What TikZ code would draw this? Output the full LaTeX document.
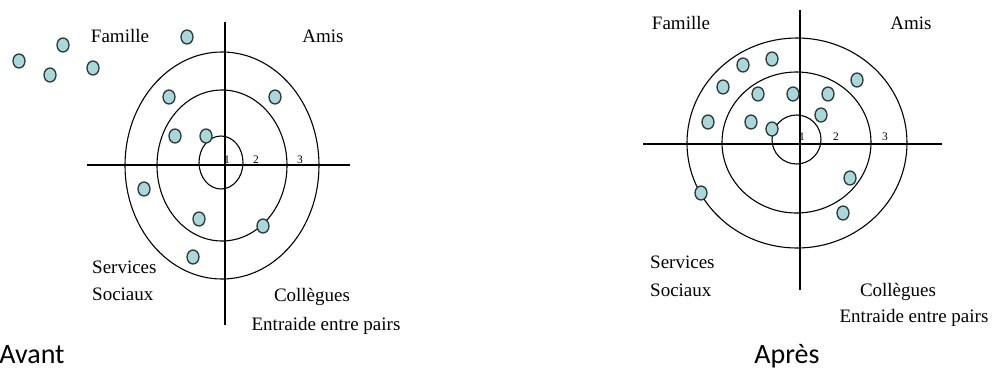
\documentclass[tikz,border=0pt]{standalone}
\usepackage{fontspec}
\setmainfont{Liberation Serif}
\newfontfamily\captionfont{Carlito}
\usetikzlibrary{shapes.geometric,positioning}
\definecolor{dotfill}{RGB}{168,216,216}
\definecolor{dotline}{RGB}{45,55,55}

\begin{document}
\begin{tikzpicture}[x=1pt,y=-1pt,
    contact/.style={ellipse,draw=dotline,fill=dotfill,line width=1.3pt,minimum width=12pt,minimum height=14pt,inner sep=0pt},
    sector/.style={font=\fontsize{19}{22}\selectfont,inner sep=0pt,anchor=base},
    ringlabel/.style={font=\fontsize{11.5}{12}\selectfont,inner sep=0pt,anchor=base},
    caption/.style={font=\captionfont\fontsize{28}{32}\selectfont,inner sep=0pt,anchor=base}]
        \useasboundingbox (0,0) rectangle (1002,370);

        % Avant
        \draw[line width=1.1pt] (87,165) -- (350,165);
        \draw[line width=1.1pt] (225,22) -- (225,325);
        \draw[line width=1.1pt] (221,162.5) ellipse (22 and 26.5);
        \draw[line width=1.1pt] (222,165.5) ellipse (65 and 75.5);
        \draw[line width=1.1pt] (222,165.5) ellipse (97 and 113.5);
        \node[ringlabel] (a1) at (227,163) {1};
        \node[ringlabel] (a2) at (256,163) {2};
        \node[ringlabel] (a3) at (300,163) {3};
        \node[sector] (afam) at (120,42) {Famille};
        \node[sector] (aamis) at (323,42) {Amis};
        \node[sector,anchor=base west] (aserv) at (92,273) {Services};
        \node[sector,anchor=base west] (asoc) at (92,300) {Sociaux};
        \node[sector] (acoll) at (312,301) {Collègues};
        \node[sector] (aentr) at (326,330) {Entraide entre pairs};
        \foreach \p/\x/\y in {1/19/61, 2/63/45, 3/50/75, 4/93/68, 5/187/37, 6/169/97, 7/275/97,
                8/175/136, 9/206/136, 10/144/189, 11/199/219, 12/263/226, 13/193/257}
            \node[contact] (a-\p) at (\x,\y) {};
        \node[caption] (avant) at (32,363) {Avant};

        % Apres
        \draw[line width=1.1pt] (643,144) -- (942,144);
        \draw[line width=1.1pt] (800,10) -- (800,290);
        \draw[line width=1.1pt] (796.5,139.5) ellipse (24.5 and 24.5);
        \draw[line width=1.1pt] (796.5,142.5) ellipse (74.5 and 70.5);
        \draw[line width=1.1pt] (797,143) ellipse (110 and 105);
        \node[ringlabel] (b1) at (802,140) {1};
        \node[ringlabel] (b2) at (836,140) {2};
        \node[ringlabel] (b3) at (885,140) {3};
        \node[sector] (bfam) at (681,29) {Famille};
        \node[sector] (bamis) at (911,29) {Amis};
        \node[sector,anchor=base west] (bserv) at (650,268) {Services};
        \node[sector,anchor=base west] (bsoc) at (650,296) {Sociaux};
        \node[sector] (bcoll) at (898,296) {Collègues};
        \node[sector] (bentr) at (914,322) {Entraide entre pairs};
        \foreach \p/\x/\y in {1/743/65, 2/772/59, 3/723/87, 4/758/94, 5/793/94, 6/828/94, 7/857/80,
                8/708/122, 9/751/122, 10/772/129, 11/821/115, 12/850/178, 13/701/193, 14/843/213}
            \node[contact] (b-\p) at (\x,\y) {};
        \node[caption] (apres) at (787,363) {Après};
\end{tikzpicture}
\end{document}
